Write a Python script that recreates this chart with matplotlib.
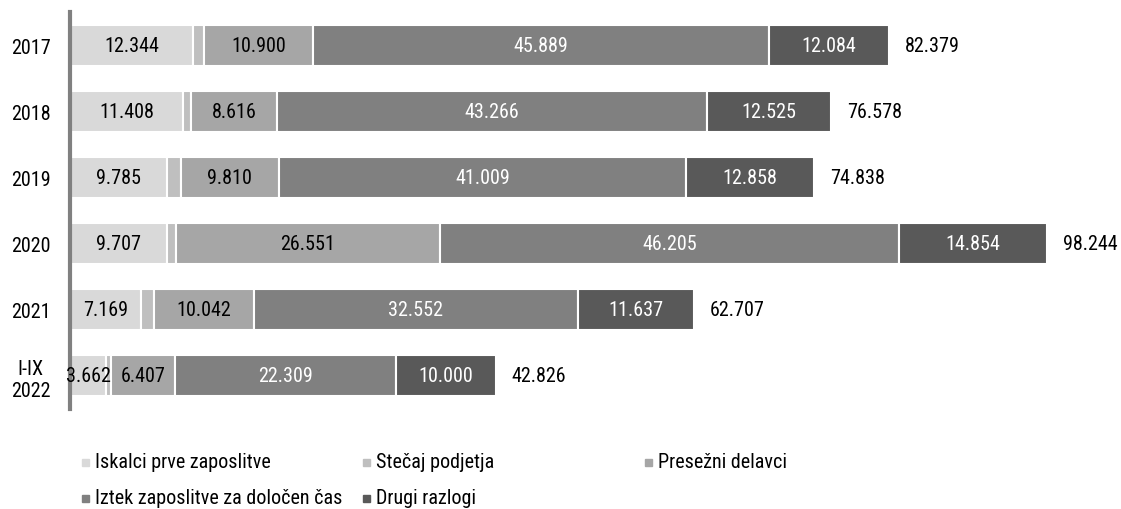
import matplotlib.pyplot as plt
from matplotlib.patches import Rectangle

plt.rcParams['font.family'] = ['Roboto Condensed', 'DejaVu Sans']

years = ['2017', '2018', '2019', '2020', '2021', 'I-IX\n2022']
totals = [82.379, 76.578, 74.838, 98.244, 62.707, 42.826]
iskalci = [12.344, 11.408, 9.785, 9.707, 7.169, 3.662]
presezni = [10.900, 8.616, 9.810, 26.551, 10.042, 6.407]
iztek = [45.889, 43.266, 41.009, 46.205, 32.552, 22.309]
drugi = [12.084, 12.525, 12.858, 14.854, 11.637, 10.000]
# remainder of each total goes to "Stečaj podjetja"
stecaj = [t - a - b - c - d for t, a, b, c, d in zip(totals, iskalci, presezni, iztek, drugi)]

series = [
    ('Iskalci prve zaposlitve', iskalci, '#d9d9d9', 'black'),
    ('Stečaj podjetja', stecaj, '#bfbfbf', None),
    ('Presežni delavci', presezni, '#a6a6a6', 'black'),
    ('Iztek zaposlitve za določen čas', iztek, '#808080', 'white'),
    ('Drugi razlogi', drugi, '#595959', 'white'),
]
FS = 14.5

fig = plt.figure(figsize=(11.21, 5.10), dpi=100)
ax = fig.add_axes([70 / 1121, 100 / 510, 1 - 70 / 1121, 397 / 510])

y = list(range(len(years)))
left = [0.0] * len(years)
for name, vals, color, txt in series:
    bars = ax.barh(y, vals, left=left, height=0.62, color=color,
                   edgecolor='white', linewidth=1.5)
    if txt is not None:
        labels = [f'{v:.3f}' for v in vals]
        ax.bar_label(bars, labels=labels, label_type='center', color=txt, fontsize=FS)
    left = [l + v for l, v in zip(left, vals)]

for yi, t in zip(y, totals):
    ax.text(t + 1.6, yi, f'{t:.3f}', va='center', ha='left', fontsize=FS)

ax.set_xlim(0, 105.7)
ax.set_ylim(len(years) - 0.5, -0.5)
ax.set_yticks(y)
ax.set_yticklabels(years, fontsize=FS, multialignment='center')
ax.tick_params(axis='y', length=0, pad=14)
ax.set_xticks([])
for s in ['top', 'right', 'bottom']:
    ax.spines[s].set_visible(False)
ax.spines['left'].set_color('#808080')
ax.spines['left'].set_linewidth(3)

# legend laid out by hand like the original
legend_pos = [(82, 463), (363, 463), (645, 463), (82, 499), (363, 499)]
for (name, vals, color, txt), (px, py) in zip(series, legend_pos):
    fig.add_artist(Rectangle((px / 1121, (510 - py - 3.5) / 510), 7 / 1121, 7 / 510,
                             transform=fig.transFigure, color=color))
    fig.text((px + 13) / 1121, (510 - py) / 510, name, va='center', ha='left', fontsize=FS)

fig.savefig('out.png', dpi=100)
